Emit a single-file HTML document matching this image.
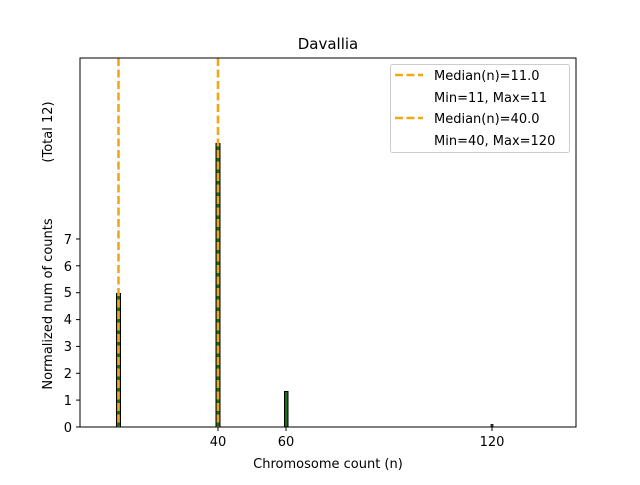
<!DOCTYPE html>
<html><head><style>body{margin:0;background:#fff}</style></head><body>
<svg width="640" height="480" xmlns="http://www.w3.org/2000/svg" font-family="DejaVu Sans, Liberation Sans, sans-serif">
<rect width="640" height="480" fill="#fff"/>
<line x1="80" y1="427" x2="130" y2="427" stroke="#bbb" stroke-width="1"/>
<rect x="116.5" y="293.5" width="4" height="133.5" fill="#1a6b1a" stroke="#000" stroke-width="1"/>
<rect x="216" y="143.5" width="4" height="283.5" fill="#1a6b1a" stroke="#000" stroke-width="1"/>
<rect x="284.5" y="391.5" width="3.5" height="35.5" fill="#1a6b1a" stroke="#000" stroke-width="1"/>
<rect x="491" y="424.5" width="2" height="2.5" fill="#1a6b1a" stroke="#000" stroke-width="0.8"/>
<line x1="118.5" y1="58" x2="118.5" y2="427" stroke="#f0a818" stroke-width="2.6" stroke-dasharray="8,3.5"/>
<line x1="218" y1="58" x2="218" y2="427" stroke="#f0a818" stroke-width="2.6" stroke-dasharray="8,3.5"/>
<rect x="80" y="58" width="496" height="369" fill="none" stroke="#000" stroke-width="1"/>
<g stroke="#000" stroke-width="1">
<line x1="218" y1="427" x2="218" y2="431"/><line x1="286" y1="427" x2="286" y2="431"/><line x1="492" y1="427" x2="492" y2="431"/>
<line x1="76" y1="427" x2="80" y2="427"/><line x1="76" y1="400.1" x2="80" y2="400.1"/><line x1="76" y1="373.3" x2="80" y2="373.3"/><line x1="76" y1="346.4" x2="80" y2="346.4"/><line x1="76" y1="319.6" x2="80" y2="319.6"/><line x1="76" y1="292.7" x2="80" y2="292.7"/><line x1="76" y1="265.8" x2="80" y2="265.8"/><line x1="76" y1="239" x2="80" y2="239"/>
</g>
<g font-size="13" fill="#000" text-anchor="middle">
<text x="218" y="446">40</text><text x="286" y="446">60</text><text x="492" y="446">120</text>
<text x="328" y="468">Chromosome count (n)</text>
<text x="328" y="49" font-size="15">Davallia</text>
</g>
<g font-size="13" fill="#000" text-anchor="end">
<text x="72" y="432">0</text><text x="72" y="405">1</text><text x="72" y="378">2</text><text x="72" y="351">3</text><text x="72" y="324">4</text><text x="72" y="297">5</text><text x="72" y="271">6</text><text x="72" y="244">7</text>
</g>
<text transform="translate(52,304) rotate(-90)" font-size="13" text-anchor="middle">Normalized num of counts</text>
<text transform="translate(52,132) rotate(-90)" font-size="13" text-anchor="middle">(Total 12)</text>
<rect x="390.5" y="64.5" width="179" height="88" rx="2" fill="#fff" stroke="#ccc"/>
<line x1="395" y1="75" x2="423" y2="75" stroke="#f0a818" stroke-width="2.6" stroke-dasharray="8,3.5"/>
<line x1="395" y1="118" x2="423" y2="118" stroke="#f0a818" stroke-width="2.6" stroke-dasharray="8,3.5"/>
<g font-size="13" fill="#000">
<text x="434" y="80">Median(n)=11.0</text>
<text x="434" y="102">Min=11, Max=11</text>
<text x="434" y="123">Median(n)=40.0</text>
<text x="434" y="145">Min=40, Max=120</text>
</g>
</svg>
</body></html>
